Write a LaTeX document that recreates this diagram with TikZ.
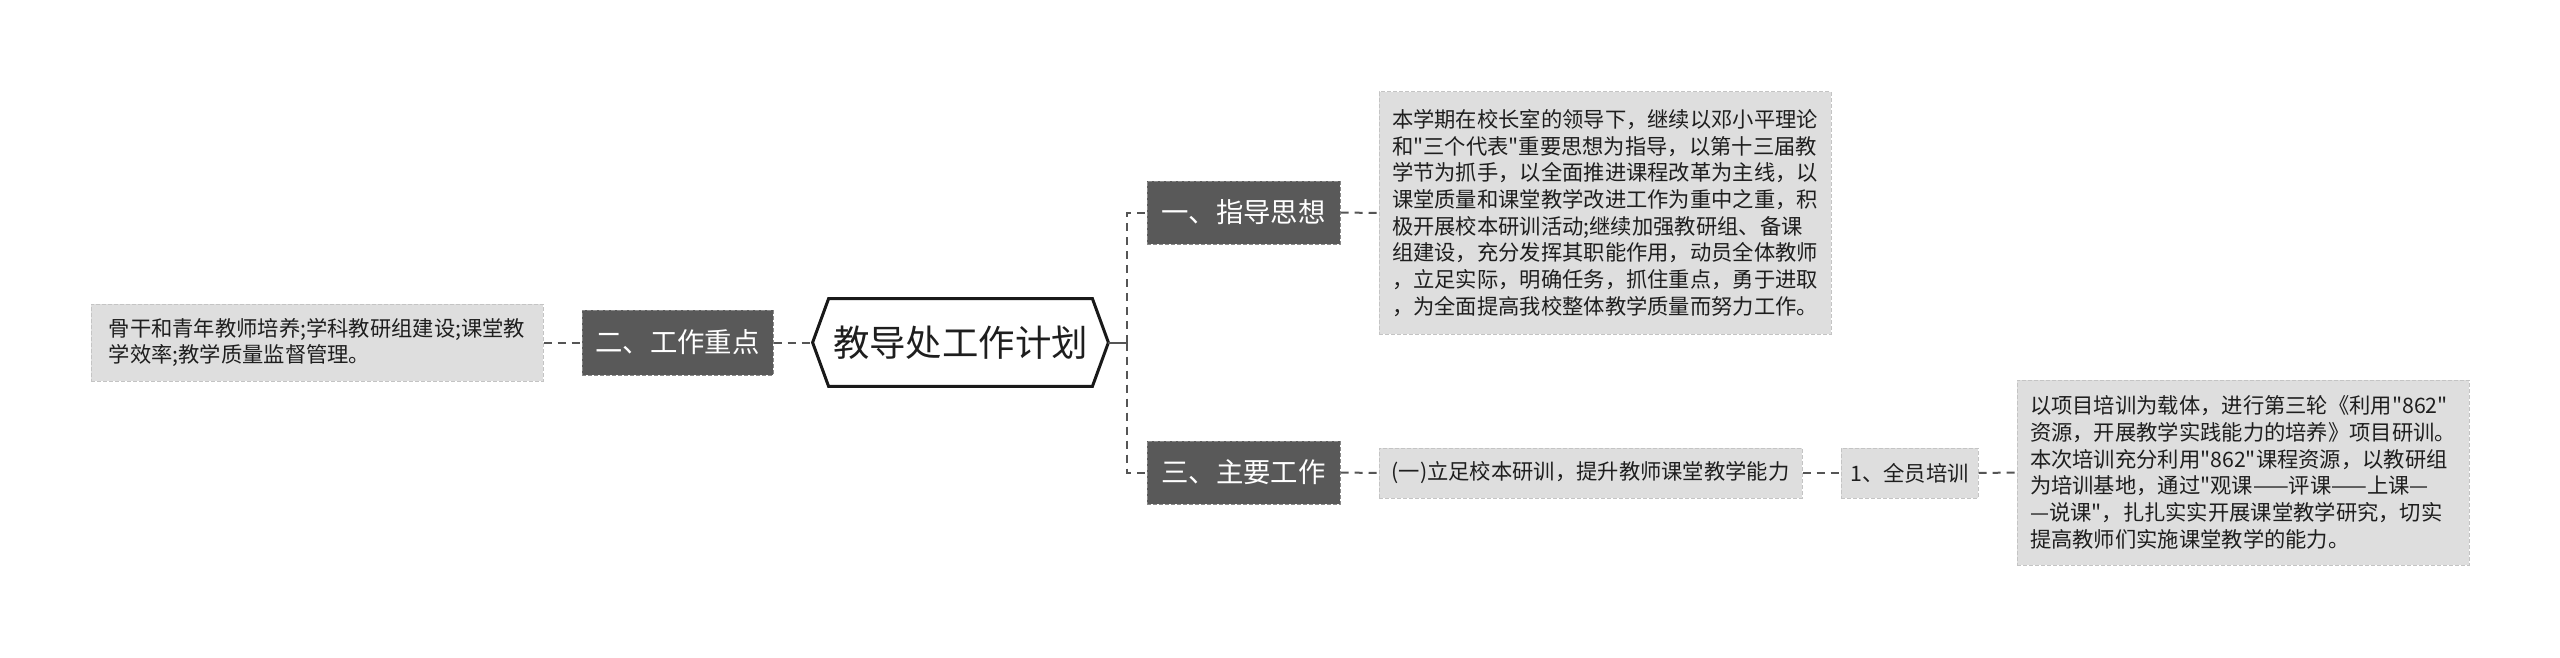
\documentclass[tikz,border=0pt]{standalone}
\usepackage{fontspec}
\setmainfont{Noto Sans CJK SC}[Ligatures=TeXOff]
\usetikzlibrary{calc}
\definecolor{darkbox}{HTML}{595959}
\definecolor{darkedge}{HTML}{8A8A8A}
\definecolor{leaffill}{HTML}{DEDEDE}
\definecolor{leafedge}{HTML}{C4C4C4}
\definecolor{conncol}{HTML}{555555}
\definecolor{txt}{HTML}{1E1E1E}
\tikzset{
  topicbox/.style={fill=darkbox, draw=darkedge, dashed, dash pattern=on 2pt off 1pt, line width=0.5pt,
    text=white, inner sep=0pt, align=center,
    font=\fontsize{13.7pt}{16pt}\selectfont},
  leafbox/.style={fill=leaffill, draw=leafedge, dash pattern=on 2pt off 1pt, line width=0.5pt,
    text=txt, inner sep=0pt, align=left,
    font=\fontsize{10.65pt}{13.35pt}\selectfont},
  rootbox/.style={inner sep=0pt, text=txt, font=\fontsize{18.2pt}{20pt}\selectfont},
  hexline/.style={draw=black!90, line width=1.5pt, line join=miter, fill=white},
  conn/.style={draw=conncol, line width=1pt, dash pattern=on 4pt off 3pt},
  solidconn/.style={draw=conncol, line width=1pt},
}
\begin{document}
\begin{tikzpicture}[x=0.5pt,y=-0.5pt]
\useasboundingbox[fill=white] (0,0) rectangle (2560,658);

% root
\node[rootbox, minimum width=147.5pt, minimum height=43.5pt] (root) at (960.5,342.5) {};
\path[hexline] (root.west) -- ([xshift=8pt]root.north west) -- ([xshift=-8pt]root.north east)
  -- (root.east) -- ([xshift=-8pt]root.south east) -- ([xshift=8pt]root.south west) -- cycle;
\node[rootbox] (roottext) at (root.center) {教导处工作计划};

% left side
\node[topicbox, minimum width=95.5pt, minimum height=32.5pt] (t2) at (677.5,342.5) {二、工作重点};
\node[leafbox, minimum width=226pt, minimum height=38.5pt] (l2) at (317,342.5)
  {骨干和青年教师培养;学科教研组建设;课堂教\\学效率;教学质量监督管理。};

% right side topics
\node[topicbox, minimum width=96.5pt, minimum height=31.5pt] (t1) at (1243.5,212.5) {一、指导思想};
\node[topicbox, minimum width=96.5pt, minimum height=31.5pt] (t3) at (1243.5,472.5) {三、主要工作};

\node[leafbox, minimum width=226pt, minimum height=121pt] (l1) at (1605,213)
  {本学期在校长室的领导下，继续以邓小平理论\\
   和"三个代表"重要思想为指导，以第十三届教\\
   学节为抓手，以全面推进课程改革为主线，以\\
   课堂质量和课堂教学改进工作为重中之重，积\\
   极开展校本研训活动;继续加强教研组、备课\\
   组建设，充分发挥其职能作用，动员全体教师\\
   ，立足实际，明确任务，抓住重点，勇于进取\\
   ，为全面提高我校整体教学质量而努力工作。};

\node[leafbox, minimum width=211.5pt, minimum height=25pt, align=center] (l3) at (1590.5,473)
  {(一)立足校本研训，提升教师课堂教学能力};
\node[leafbox, minimum width=68.5pt, minimum height=25pt, align=center] (l4) at (1909.5,473)
  {1、全员培训};
\node[leafbox, minimum width=226pt, minimum height=92.5pt] (l5) at (2243,472.5)
  {以项目培训为载体，进行第三轮《利用"862"\\
   资源，开展教学实践能力的培养》项目研训。\\
   本次培训充分利用"862"课程资源，以教研组\\
   为培训基地，通过"观课——评课——上课—\\
   —说课"，扎扎实实开展课堂教学研究，切实\\
   提高教师们实施课堂教学的能力。};

% connectors
\coordinate (jr) at (1127,342.5);
\draw[solidconn] (root.east) -- (jr);
\draw[conn] (jr) |- (t1.west);
\draw[conn] (jr) |- (t3.west);
\draw[conn] (t2.east) -- (root.west);
\draw[conn] (l2.east) -- (t2.west);
\draw[conn] (t1.east) -- (l1.west);
\draw[conn] (t3.east) -- (l3.west);
\draw[conn] (l3.east) -- (l4.west);
\draw[conn] (l4.east) -- (l5.west);
\end{tikzpicture}
\end{document}
